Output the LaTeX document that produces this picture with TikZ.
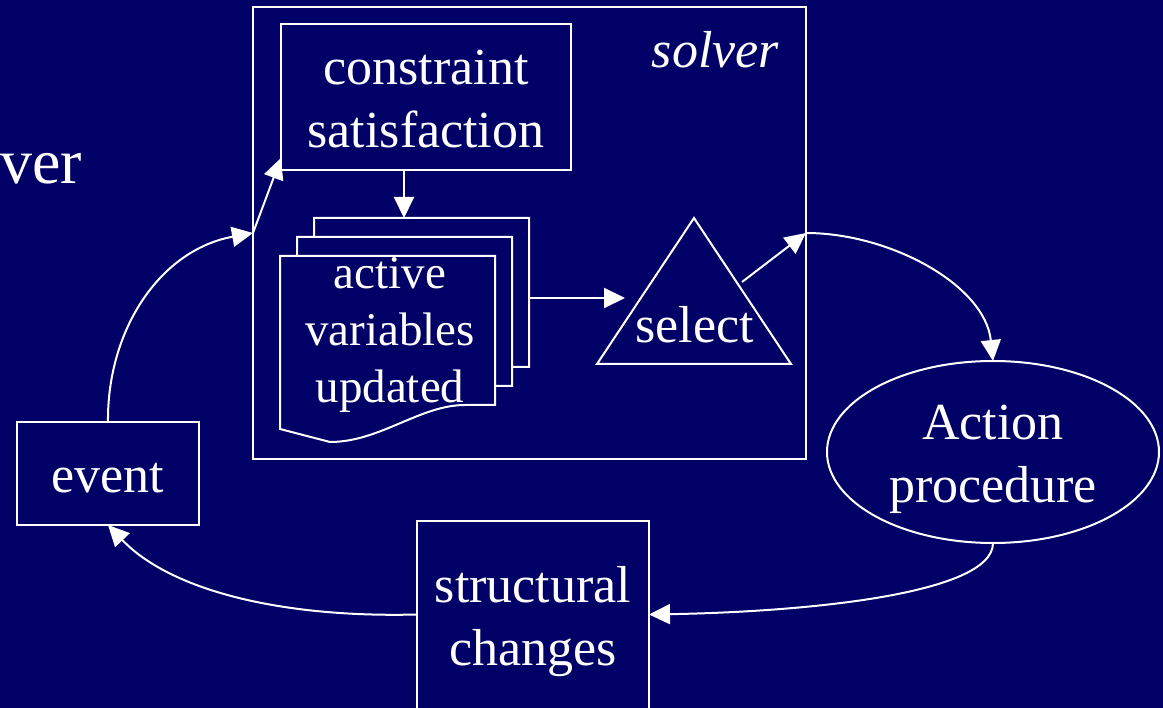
\documentclass[tikz,border=0pt]{standalone}
\usepackage{fontspec}
\setmainfont{Liberation Serif}
\usetikzlibrary{arrows.meta,shapes.geometric,calc}
\definecolor{bg}{HTML}{000066}
\begin{document}
\begin{tikzpicture}[x=1pt,y=-1pt,
  box/.style={draw=white, line width=2pt, rectangle, inner sep=0pt, outer sep=0pt},
  txt/.style={text=white, align=center, inner sep=0pt, outer sep=0pt, font=\fontsize{52}{63}\selectfont},
  smalltxt/.style={txt, font=\fontsize{47}{57}\selectfont},
  arr/.style={draw=white, line width=2pt, -{Triangle[length=21pt,width=20pt]}},
  page/.style={draw=white, fill=bg, line width=2pt, line join=miter}]
\useasboundingbox (0,0) rectangle (1163,708);
\fill[bg] (0,0) rectangle (1163,708);

% partial title text at left
\node[txt, font=\fontsize{64}{70}\selectfont, anchor=base east] (title) at (82,184) {ver};

% solver frame
\node[box, minimum width=553pt, minimum height=452pt] (solver) at (529.5,233) {};
\node[txt, font=\fontsize{52}{63}\selectfont\itshape, anchor=base east] (solverlabel) at (779,68) {solver};

% constraint satisfaction
\node[box, minimum width=290pt, minimum height=146pt] (cs) at (426,97) {};
\node[txt] (cstext) at (426,98.8) {constraint\\satisfaction};

% stacked documents
\foreach \px/\py in {314/218, 297/237, 280/256}{
  \draw[page, shift={(\px,\py)}] (0,0) -- (215,0) -- (215,149) -- (185,149)
    .. controls (140,149) and (100,186) .. (50,186) -- (0,173) -- cycle;
}
\coordinate (docTop) at (404,218);
\coordinate (docRight) at (529,298);
\node[smalltxt] (doctext) at (390,335) {active\\variables\\updated};

% select triangle
\coordinate (triA) at (694,218);
\coordinate (triL) at (597,364);
\coordinate (triR) at (791,364);
\draw[white, line width=2pt, line join=miter] (triA) -- (triR) -- (triL) -- cycle;
\node[txt] (sel) at (694.5,324.3) {select};
\coordinate (selIn) at (625,298);
\coordinate (selOut) at (742,282);

% event
\node[box, minimum width=182pt, minimum height=103pt] (ev) at (108,473.5) {};
\node[txt] (evtext) at (108,478) {event};

% action procedure
\node[draw=white, line width=2pt, ellipse, inner sep=0pt, outer sep=0pt,
      minimum width=332pt, minimum height=182pt] (ap) at (993,452) {};
\node[txt] (aptext) at (993,459.4) {Action\\procedure};

% structural changes
\node[box, minimum width=232pt, minimum height=200pt] (sc) at (533,621) {};
\node[txt] (sctext) at (533,621.4) {structural\\changes};

% connectors
\draw[arr] (cs.south -| docTop) -- (docTop);
\draw[arr] (docRight) -- (selIn);
\draw[arr] (selOut) -- (solver.east);
\draw[arr] (solver.east) .. controls (890,233) and (985,285) .. (ap.north);
\draw[arr] (ap.south) .. controls (993,595) and (800,612) .. ([yshift=6.5pt]sc.east);
\draw[arr] ([yshift=6.5pt]sc.west) .. controls (280,618) and (170,590) .. (ev.south);
\draw[arr] (ev.north) .. controls (107,330) and (160,250) .. (solver.west);
\draw[arr] (solver.west) -- ([yshift=12pt]cs.south west);
\end{tikzpicture}
\end{document}
